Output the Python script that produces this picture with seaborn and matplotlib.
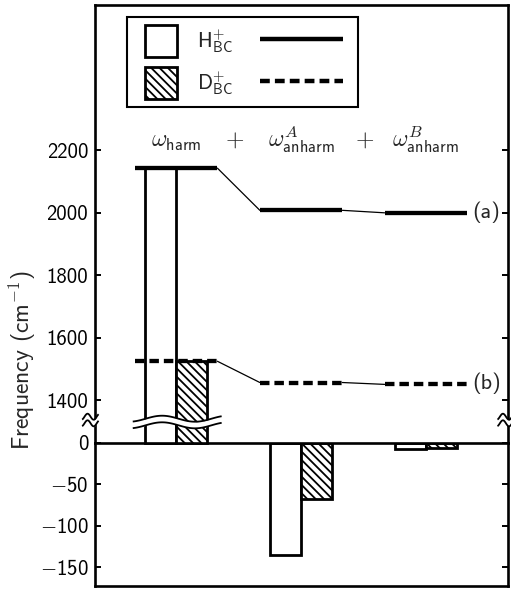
import numpy as np
import pandas as pd
import matplotlib
matplotlib.use("Agg")
import matplotlib.pyplot as plt
import matplotlib.patches as mpatches
import matplotlib.transforms as mtransforms
from matplotlib.lines import Line2D
from matplotlib.ticker import FuncFormatter
import seaborn as sns

# ---------------- data ----------------
terms = ["harm", "anharmA", "anharmB"]
isotopes = ["H", "D"]
H_values = [2142, -135, -8]
D_values = [1524, -68, -6]
term_labels = [r"$\omega_{\mathsf{harm}}$",
               r"$\omega^{A}_{\mathsf{anharm}}$",
               r"$\omega^{B}_{\mathsf{anharm}}$"]
legend_labels = [r"$\mathsf{H}^{+}_{\mathsf{BC}}$", r"$\mathsf{D}^{+}_{\mathsf{BC}}$"]
top_ticks = [1400, 1600, 1800, 2000, 2200]
bottom_ticks = [0, -50, -100, -150]
curve_labels = ["(a)", "(b)"]

df = pd.DataFrame({
    "term": terms * 2,
    "isotope": ["H"] * 3 + ["D"] * 3,
    "value": H_values + D_values,
})

sns.set_style("white")
plt.rcParams["font.family"] = ["cmss10", "DejaVu Sans"]
plt.rcParams["mathtext.fontset"] = "cm"
plt.rcParams["axes.formatter.use_mathtext"] = False
plt.rcParams["hatch.linewidth"] = 1.3
plt.rcParams["hatch.color"] = "black"

fig = plt.figure(figsize=(5.11, 5.91), dpi=100)
ax_top = fig.add_axes([0.1865, 0.25093, 0.8072, 0.7406])
ax_bot = fig.add_axes([0.1865, 0.00846, 0.8072, 0.24247])

XLIM = (-0.648, 2.656)
SPINE_LW = 1.9
DASH = (0, (2.2, 1.15))


def fmt(v, pos):
    v = int(round(v))
    return (r"$-$" if v < 0 else "") + str(abs(v))


for ax in (ax_top, ax_bot):
    sns.barplot(data=df, x="term", y="value", hue="isotope", hue_order=isotopes,
                order=terms, palette={"H": "white", "D": "white"},
                edgecolor="black", linewidth=2.0, width=0.5, saturation=1,
                errorbar=None, legend=False, ax=ax, zorder=1)
    for bar in ax.containers[1]:
        bar.set_hatch("\\\\\\\\")
    ax.set_xlim(*XLIM)
    ax.set_xticks([])
    ax.set_xlabel("")
    ax.set_ylabel("")
    for s in ax.spines.values():
        s.set_linewidth(SPINE_LW)
        s.set_color("black")
    ax.tick_params(axis="y", direction="in", length=4, width=1.4, left=True,
                   right=True, labelsize=15, pad=5, colors="black")
    ax.yaxis.set_major_formatter(FuncFormatter(fmt))

ax_top.set_ylim(1263.4, 2664)
ax_bot.set_ylim(-172.5, 0)
ax_top.set_yticks(top_ticks)
ax_bot.set_yticks(bottom_ticks)
ax_top.spines["bottom"].set_visible(False)

# ---------------- level lines ----------------
half = 0.33
xpos = np.arange(len(terms))
styles = {"H": dict(ls="-"), "D": dict(ls=DASH)}
for iso, vals in (("H", H_values), ("D", D_values)):
    levels = np.cumsum(vals)
    for i, lvl in enumerate(levels):
        ax_top.plot([xpos[i] - half, xpos[i] + half], [lvl, lvl], color="black",
                    lw=3.1, solid_capstyle="butt", dash_capstyle="butt",
                    zorder=5, **styles[iso])
        if i + 1 < len(levels):
            ax_top.plot([xpos[i] + half, xpos[i + 1] - half], [lvl, levels[i + 1]],
                        color="black", lw=0.9, zorder=5)

# ---------------- term labels ----------------
for i, lab in enumerate(term_labels):
    ax_top.text(xpos[i], 2210, lab, ha="center", va="baseline", fontsize=17)
for xp in (0.468, 1.508):
    ax_top.text(xp, 2210, "$+$", ha="center", va="baseline", fontsize=17)

ax_top.text(2.484, 2000, curve_labels[0], ha="center", va="center", fontsize=16)
ax_top.text(2.484, 1455, curve_labels[1], ha="center", va="center", fontsize=16)

# ---------------- break marks ----------------
upp = (2664 - 1263.4) / (0.7406 * 591)  # data units per pixel
amp = 3.0 * upp
gap = 3.3 * upp


def wave(t):
    return amp * np.sin(2 * np.pi * 1.35 * t - 0.391 * np.pi)


def draw_break(ax, x0, x1, yc, transform, clip):
    t = np.linspace(0, 1, 100)
    x = x0 + (x1 - x0) * t
    w = wave(t)
    ax.fill_between(x, yc + w - gap, yc + w + gap, color="white", lw=0,
                    zorder=6, transform=transform, clip_on=clip)
    for sgn in (-1, 1):
        ax.plot(x, yc + w + sgn * gap, color="black", lw=1.3, zorder=7,
                transform=transform, clip_on=clip, solid_capstyle="butt")


draw_break(ax_top, -0.348, 0.364, 1329.6, ax_top.transData, True)
blend = mtransforms.blended_transform_factory(ax_top.transAxes, ax_top.transData)
draw_break(ax_top, -0.032, 0.008, 1336, blend, False)
draw_break(ax_top, 0.975, 1.015, 1336, blend, False)

# ---------------- legend ----------------
FS = 15.0
EXTRA_L = 6.9   # points
EXTRA_R = 4.8   # points
LINE_LEN = 59.8  # points


class SquareHandler:
    def __init__(self, hatch=None):
        self.hatch = hatch

    def legend_artist(self, legend, orig_handle, fontsize, handlebox):
        s = handlebox.height
        handlebox.width = s + EXTRA_L
        p = mpatches.Rectangle((EXTRA_L - handlebox.xdescent, -handlebox.ydescent), s, s,
                               facecolor="white", edgecolor="black", lw=2.0,
                               hatch=self.hatch,
                               transform=handlebox.get_transform())
        handlebox.add_artist(p)
        return p


class LongLineHandler:
    def legend_artist(self, legend, orig_handle, fontsize, handlebox):
        handlebox.width = LINE_LEN + EXTRA_R
        y = handlebox.height / 2 - handlebox.ydescent + 1.6
        ln = Line2D([-handlebox.xdescent, LINE_LEN - handlebox.xdescent], [y, y])
        ln.update_from(orig_handle)
        ln.set_solid_capstyle("butt")
        ln.set_dash_capstyle("butt")
        ln.set_transform(handlebox.get_transform())
        handlebox.add_artist(ln)
        return ln


hH = mpatches.Patch(facecolor="white", edgecolor="black")
hD = mpatches.Patch(facecolor="white", edgecolor="black", hatch="\\\\\\\\")
lH = Line2D([], [], color="black", lw=3.2, ls="-")
lD = Line2D([], [], color="black", lw=3.2, ls=DASH)

leg = ax_top.legend([hH, hD, lH, lD], legend_labels + ["", ""], ncol=2,
                    loc="upper left", bbox_to_anchor=(0.0768, 0.9726),
                    borderaxespad=0, fontsize=FS, handlelength=1.54,
                    handleheight=1.986, handletextpad=1.0, columnspacing=1.25,
                    labelspacing=0.48, borderpad=0.385, fancybox=False,
                    framealpha=1, edgecolor="black",
                    handler_map={hH: SquareHandler(), hD: SquareHandler("\\\\\\\\"),
                                 lH: LongLineHandler(), lD: LongLineHandler()})
leg.get_frame().set_linewidth(1.5)
leg.set_zorder(10)
cols = leg._legend_handle_box.get_children()
for row in cols[1].get_children():
    row.sep = 0

fig.text(0.043, 0.39, r"Frequency (cm$^{-1}$)", rotation=90, ha="center",
         va="center", fontsize=17)

fig.savefig("out.png", dpi=100)
